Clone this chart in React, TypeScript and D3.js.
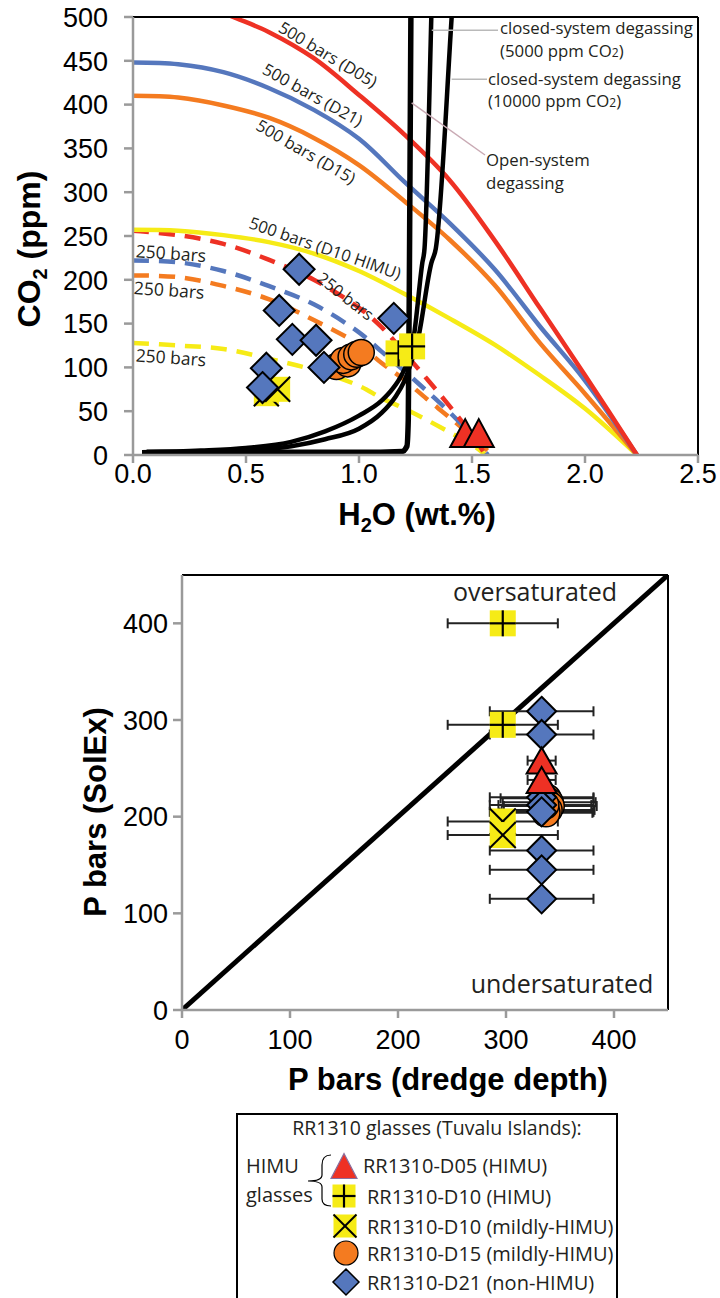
import React from 'react';
import * as d3 from 'd3';

type P = [number, number];

// ---------- Top chart (CO2 vs H2O) ----------
const h2oTicks = [0, 0.5, 1.0, 1.5, 2.0, 2.5];
const co2Ticks = [0, 50, 100, 150, 200, 250, 300, 350, 400, 450, 500];

const isoD05_500: P[] = [[0, 545], [0.2, 532], [0.4, 505], [0.6, 483], [0.8, 453], [1.0, 411], [1.2, 366], [1.4, 314], [1.6, 245], [1.8, 168], [2.0, 91], [2.23, 0]];
const isoD21_500: P[] = [[0, 448], [0.2, 446], [0.4, 437], [0.6, 419], [0.8, 394], [1.0, 361], [1.2, 312], [1.4, 265], [1.6, 212], [1.8, 147], [2.0, 85], [2.23, 0]];
const isoD15_500: P[] = [[0, 410], [0.2, 408], [0.4, 399], [0.6, 385], [0.8, 362], [1.0, 331], [1.2, 290], [1.4, 246], [1.6, 194], [1.8, 128], [2.0, 70], [2.23, 0]];
const isoD10_500: P[] = [[0, 257], [0.2, 256], [0.4, 251], [0.6, 243], [0.8, 230], [1.0, 210], [1.2, 184], [1.4, 156], [1.6, 126], [1.8, 91], [2.0, 53], [2.23, 0]];

const isoD05_250: P[] = [[0, 256], [0.2, 251], [0.4, 241], [0.6, 223], [0.8, 200], [1.0, 168], [1.1, 146], [1.2, 117], [1.3, 87], [1.4, 56], [1.5, 23], [1.56, 0]];
const isoD21_250: P[] = [[0, 222], [0.2, 220], [0.4, 210], [0.6, 193], [0.8, 172], [1.0, 140], [1.1, 118], [1.2, 96], [1.3, 73], [1.4, 49], [1.5, 22], [1.57, 0]];
const isoD15_250: P[] = [[0, 205], [0.2, 203], [0.4, 193], [0.6, 178], [0.8, 154], [1.0, 126], [1.1, 105], [1.2, 86], [1.3, 64], [1.4, 43], [1.5, 21], [1.59, 0]];
const isoD10_250: P[] = [[0, 128], [0.2, 125], [0.4, 121], [0.6, 110], [0.8, 97], [1.0, 79], [1.1, 65], [1.2, 53], [1.3, 40], [1.4, 26], [1.5, 12], [1.56, 0]];

const openSystem: P[] = [[0.06, 3], [0.5, 3], [1.0, 3], [1.19, 4], [1.212, 10], [1.218, 40], [1.224, 250], [1.23, 520]];
const closed5000: P[] = [[0.04, 3], [0.3, 5], [0.5, 8], [0.7, 15], [0.85, 27], [1.0, 45], [1.1, 62], [1.15, 76], [1.19, 92], [1.22, 110], [1.24, 131], [1.28, 219], [1.29, 236], [1.32, 500], [1.322, 520]];
const closed10000: P[] = [[0.04, 2], [0.3, 3], [0.5, 5], [0.7, 10], [0.85, 18], [1.0, 30], [1.1, 48], [1.16, 66], [1.2, 84], [1.23, 105], [1.26, 131], [1.32, 219], [1.34, 236], [1.41, 500], [1.415, 520]];

const d05Top: P[] = [[1.47, 25], [1.53, 25]];
const d10HimuTop: P[] = [[1.175, 116], [1.235, 124]];
const d10MildTop: P[] = [[0.59, 70], [0.64, 75]];
const d15Top: P[] = [[0.90, 101], [0.95, 104], [0.93, 108], [0.965, 112], [0.99, 115], [1.01, 117]];
const d21Top: P[] = [[0.735, 212], [0.647, 165], [0.705, 132], [0.81, 131], [0.845, 100], [0.59, 99], [0.573, 77], [1.154, 156]];

// ---------- Bottom chart (P SolEx vs P dredge) ----------
const pTicks = [0, 100, 200, 300, 400];
type E = [number, number, number]; // dredge P, SolEx P, +/- error on dredge P
const d05Bot: E[] = [[333, 258, 13], [333, 238, 13]];
const d10HimuBot: E[] = [[297, 400, 51], [297, 295, 51]];
const d10MildBot: E[] = [[297, 195, 51], [297, 181, 51]];
const d15Bot: E[] = [[338, 219, 43], [340, 215, 43], [341, 211, 43], [339, 207, 43], [337, 204, 43], [336, 212, 43]];
const d21Bot: E[] = [[333, 309, 48], [333, 285, 48], [333, 220, 48], [333, 212, 48], [333, 205, 48], [333, 165, 48], [333, 145, 48], [333, 115, 48]];

const RED = '#ee3124';
const BLUE = '#5577bd';
const ORANGE = '#f47b20';
const YELLOW = '#f6eb16';
const SANS = '"Liberation Sans", Arial, sans-serif';
const LABEL = '"Open Sans", sans-serif';
const INK = '#231f20';

const diamond = (cx: number, cy: number, r: number) => `M${cx},${cy - r}L${cx + r},${cy}L${cx},${cy + r}L${cx - r},${cy}Z`;
const triangle = (cx: number, cy: number, w: number, h: number) => `M${cx},${cy - h / 2}L${cx + w / 2},${cy + h / 2}L${cx - w / 2},${cy + h / 2}Z`;

function SqPlus({ cx, cy, s }: { cx: number; cy: number; s: number }) {
  return (
    <g>
      <rect x={cx - s / 2} y={cy - s / 2} width={s} height={s} fill={YELLOW} />
      <line x1={cx} x2={cx} y1={cy - s / 2} y2={cy + s / 2} stroke="#000" strokeWidth={2.2} />
      <line x1={cx - s / 2} x2={cx + s / 2} y1={cy} y2={cy} stroke="#000" strokeWidth={2.2} />
    </g>
  );
}
function SqX({ cx, cy, s }: { cx: number; cy: number; s: number }) {
  return (
    <g>
      <rect x={cx - s / 2} y={cy - s / 2} width={s} height={s} fill={YELLOW} />
      <line x1={cx - s / 2} x2={cx + s / 2} y1={cy - s / 2} y2={cy + s / 2} stroke="#000" strokeWidth={2} />
      <line x1={cx - s / 2} x2={cx + s / 2} y1={cy + s / 2} y2={cy - s / 2} stroke="#000" strokeWidth={2} />
    </g>
  );
}

export default function App() {
  // top scales
  const x = d3.scaleLinear().domain([0, 2.5]).range([133, 698]);
  const y = d3.scaleLinear().domain([0, 500]).range([455, 17]);
  const smooth = d3.line<P>().x(d => x(d[0])).y(d => y(d[1])).curve(d3.curveCatmullRom.alpha(0.5));
  const mono = d3.line<P>().x(d => x(d[0])).y(d => y(d[1])).curve(d3.curveMonotoneX);

  // bottom scales
  const bx = d3.scaleLinear().domain([0, 450]).range([182, 668]);
  const by = d3.scaleLinear().domain([0, 450]).range([1010, 575]);

  const solid = [
    { d: isoD10_500, c: YELLOW },
    { d: isoD15_500, c: ORANGE },
    { d: isoD21_500, c: BLUE },
    { d: isoD05_500, c: RED },
  ];
  const dashed = [
    { d: isoD10_250, c: YELLOW },
    { d: isoD15_250, c: ORANGE },
    { d: isoD21_250, c: BLUE },
    { d: isoD05_250, c: RED },
  ];

  const rotLabel = (txt: string, px: number, py: number, ang: number, size = 16.5) => (
    <text key={txt + px} transform={`translate(${px},${py}) rotate(${ang})`} textAnchor="middle" dy="0.35em"
      fontFamily={LABEL} fontSize={size} fill={INK}>{txt}</text>
  );

  const allBot = [...d05Bot, ...d10HimuBot, ...d10MildBot, ...d15Bot, ...d21Bot];

  return (
    <svg width={720} height={1298} style={{ position: 'absolute', left: 0, top: 0, background: '#fff' }}>
      <defs>
        <clipPath id="topclip">
          <rect x={x(0)} y={y(500)} width={x(2.5) - x(0)} height={y(0) - y(500)} />
        </clipPath>
        <clipPath id="botclip">
          <rect x={bx(0)} y={by(450)} width={bx(450) - bx(0)} height={by(0) - by(450)} />
        </clipPath>
      </defs>
      <rect x={0} y={0} width={720} height={1298} fill="#fff" />

      {/* ================= TOP CHART ================= */}
      <g clipPath="url(#topclip)">
        {dashed.map((s, i) => (
          <path key={'ds' + i} d={smooth(s.d) || ''} fill="none" stroke={s.c} strokeWidth={4.5} strokeDasharray="16,10" />
        ))}
        {solid.map((s, i) => (
          <path key={'so' + i} d={smooth(s.d) || ''} fill="none" stroke={s.c} strokeWidth={4.5} />
        ))}
        <path d={mono(closed10000) || ''} fill="none" stroke="#000" strokeWidth={4.5} />
        <path d={mono(closed5000) || ''} fill="none" stroke="#000" strokeWidth={4.5} />
        <path d={mono(openSystem) || ''} fill="none" stroke="#000" strokeWidth={5.5} />
      </g>

      {/* frame */}
      <line x1={x(0)} x2={x(2.5)} y1={y(500)} y2={y(500)} stroke="#000" strokeWidth={2} />
      <line x1={x(2.5)} x2={x(2.5)} y1={y(500)} y2={y(0)} stroke="#000" strokeWidth={2} />
      <line x1={x(0)} x2={x(0)} y1={y(500)} y2={y(0)} stroke="#9a9a9a" strokeWidth={2.5} />
      <line x1={x(0)} x2={x(2.5)} y1={y(0)} y2={y(0)} stroke="#9a9a9a" strokeWidth={2.5} />
      {co2Ticks.map(t => (
        <g key={'yt' + t}>
          <line x1={x(0) - 9} x2={x(0)} y1={y(t)} y2={y(t)} stroke="#9a9a9a" strokeWidth={2.5} />
          <text x={108} y={y(t)} dy="0.36em" textAnchor="end" fontFamily={SANS} fontSize={27} fill="#000">{t}</text>
        </g>
      ))}
      {h2oTicks.map(t => (
        <g key={'xt' + t}>
          <line x1={x(t)} x2={x(t)} y1={y(0)} y2={y(0) + 8} stroke="#9a9a9a" strokeWidth={2.5} />
          <text x={x(t)} y={483} textAnchor="middle" fontFamily={SANS} fontSize={27} fill="#000">{t.toFixed(1)}</text>
        </g>
      ))}
      <text x={417} y={525} textAnchor="middle" fontFamily={SANS} fontSize={31} fontWeight="bold" fill="#000">
        H<tspan fontSize={20} dy={7}>2</tspan><tspan dy={-7}>O (wt.%)</tspan>
      </text>
      <text transform={`translate(40,249) rotate(-90)`} textAnchor="middle" fontFamily={SANS} fontSize={32} fontWeight="bold" fill="#000">
        CO<tspan fontSize={20} dy={7}>2</tspan><tspan dy={-7}> (ppm)</tspan>
      </text>

      {/* curve labels */}
      {rotLabel('500 bars (D05)', x(0.862), y(457), 31)}
      {rotLabel('500 bars (D21)', x(0.795), y(411), 29)}
      {rotLabel('500 bars (D15)', x(0.765), y(346), 30)}
      {rotLabel('500 bars (D10 HIMU)', x(0.85), y(236), 19)}
      {rotLabel('250 bars', x(0.94), y(181), 38)}
      {rotLabel('250 bars', x(0.168), y(230), 4, 17.5)}
      {rotLabel('250 bars', x(0.160), y(188), 4, 17.5)}
      {rotLabel('250 bars', x(0.168), y(111), 4, 17.5)}

      {/* degassing leaders & labels */}
      <line x1={x(1.322)} x2={498} y1={y(485)} y2={y(485)} stroke="#b9b9b9" strokeWidth={1.5} />
      <line x1={x(1.41)} x2={487} y1={y(429)} y2={y(429)} stroke="#b9b9b9" strokeWidth={1.5} />
      <line x1={x(1.233)} x2={485} y1={y(402)} y2={155} stroke="#c9aab4" strokeWidth={1.5} />
      <g fontFamily={LABEL} fontSize={16.8} fill={INK}>
        <text x={500} y={34}>closed-system degassing</text>
        <text x={500} y={57}>(5000 ppm CO<tspan fontSize={12}>2</tspan>)</text>
        <text x={488} y={85}>closed-system degassing</text>
        <text x={488} y={107}>(10000 ppm CO<tspan fontSize={12}>2</tspan>)</text>
        <text x={486} y={166}>Open-system</text>
        <text x={486} y={189}>degassing</text>
      </g>

      {/* data markers top */}
      {d10MildTop.map((d, i) => <SqX key={'mx' + i} cx={x(d[0])} cy={y(d[1])} s={25} />)}
      {d15Top.map((d, i) => <circle key={'c' + i} cx={x(d[0])} cy={y(d[1])} r={13} fill={ORANGE} stroke="#000" strokeWidth={1.5} />)}
      {d21Top.map((d, i) => <path key={'dm' + i} d={diamond(x(d[0]), y(d[1]), 15.5)} fill={BLUE} stroke="#000" strokeWidth={2} />)}
      {d10HimuTop.map((d, i) => <SqPlus key={'hp' + i} cx={x(d[0])} cy={y(d[1])} s={26} />)}
      {d05Top.map((d, i) => <path key={'tr' + i} d={triangle(x(d[0]), y(d[1]), 30, 28)} fill={RED} stroke="#000" strokeWidth={2} />)}

      {/* ================= BOTTOM CHART ================= */}
      <g clipPath="url(#botclip)">
        <line x1={bx(0)} y1={by(0)} x2={bx(450)} y2={by(450)} stroke="#000" strokeWidth={5} />
      </g>
      <line x1={bx(0)} x2={bx(450)} y1={by(450)} y2={by(450)} stroke="#000" strokeWidth={2} />
      <line x1={bx(450)} x2={bx(450)} y1={by(450)} y2={by(0)} stroke="#000" strokeWidth={2} />
      <line x1={bx(0)} x2={bx(0)} y1={by(450)} y2={by(0)} stroke="#9a9a9a" strokeWidth={2.5} />
      <line x1={bx(0)} x2={bx(450)} y1={by(0)} y2={by(0)} stroke="#9a9a9a" strokeWidth={2.5} />
      {pTicks.map(t => (
        <g key={'byt' + t}>
          <line x1={bx(0) - 9} x2={bx(0)} y1={by(t)} y2={by(t)} stroke="#9a9a9a" strokeWidth={2.5} />
          <text x={168} y={by(t)} dy="0.36em" textAnchor="end" fontFamily={SANS} fontSize={27} fill="#000">{t}</text>
        </g>
      ))}
      {pTicks.map(t => (
        <g key={'bxt' + t}>
          <line x1={bx(t)} x2={bx(t)} y1={by(0)} y2={by(0) + 8} stroke="#9a9a9a" strokeWidth={2.5} />
          <text x={bx(t)} y={1049} textAnchor="middle" fontFamily={SANS} fontSize={27} fill="#000">{t}</text>
        </g>
      ))}
      <text x={448} y={1090} textAnchor="middle" fontFamily={SANS} fontSize={31} fontWeight="bold" fill="#000">P bars (dredge depth)</text>
      <text transform={`translate(106,812) rotate(-90)`} textAnchor="middle" fontFamily={SANS} fontSize={31} fontWeight="bold" fill="#000">P bars (SolEx)</text>
      <text x={535} y={601} textAnchor="middle" fontFamily={LABEL} fontSize={25} fill={INK}>oversaturated</text>
      <text x={562} y={993} textAnchor="middle" fontFamily={LABEL} fontSize={25} fill={INK}>undersaturated</text>

      {/* error bars */}
      {allBot.map((d, i) => (
        <g key={'eb' + i} stroke="#222" strokeWidth={2}>
          <line x1={bx(d[0] - d[2])} x2={bx(d[0] + d[2])} y1={by(d[1])} y2={by(d[1])} />
          <line x1={bx(d[0] - d[2])} x2={bx(d[0] - d[2])} y1={by(d[1]) - 5} y2={by(d[1]) + 5} />
          <line x1={bx(d[0] + d[2])} x2={bx(d[0] + d[2])} y1={by(d[1]) - 5} y2={by(d[1]) + 5} />
        </g>
      ))}
      {d10MildBot.map((d, i) => <SqX key={'bmx' + i} cx={bx(d[0])} cy={by(d[1])} s={26} />)}
      {d10HimuBot.map((d, i) => <SqPlus key={'bhp' + i} cx={bx(d[0])} cy={by(d[1])} s={26} />)}
      {d15Bot.map((d, i) => <circle key={'bc' + i} cx={bx(d[0])} cy={by(d[1])} r={14} fill={ORANGE} stroke="#000" strokeWidth={1.5} />)}
      {d21Bot.map((d, i) => <path key={'bdm' + i} d={diamond(bx(d[0]), by(d[1]), 14.5)} fill={BLUE} stroke="#000" strokeWidth={2} />)}
      {d05Bot.map((d, i) => <path key={'btr' + i} d={triangle(bx(d[0]), by(d[1]), 30, 26)} fill={RED} stroke="#000" strokeWidth={2} />)}

      {/* ================= LEGEND ================= */}
      <rect x={237} y={1114} width={380} height={200} fill="#fff" stroke="#000" strokeWidth={2} />
      <g fontFamily={LABEL} fill={INK}>
        <text x={437} y={1135} textAnchor="middle" fontSize={19.5}>RR1310 glasses (Tuvalu Islands):</text>
        <text x={246} y={1173} fontSize={20}>HIMU</text>
        <text x={246} y={1202} fontSize={20}>glasses</text>
        <text x={363} y={1173} fontSize={20}>RR1310-D05 (HIMU)</text>
        <text x={367} y={1204} fontSize={20}>RR1310-D10 (HIMU)</text>
        <text x={367} y={1234} fontSize={20}>RR1310-D10 (mildly-HIMU)</text>
        <text x={367} y={1261} fontSize={20}>RR1310-D15 (mildly-HIMU)</text>
        <text x={367} y={1290} fontSize={20}>RR1310-D21 (non-HIMU)</text>
      </g>
      <path d="M331,1155 Q322,1155 322,1165 L322,1175 Q322,1181 308,1181 Q322,1181 322,1187 L322,1199 Q322,1206 331,1206"
        fill="none" stroke="#000" strokeWidth={1.2} />
      <path d={triangle(344, 1166, 26, 25)} fill={RED} stroke="#8a6f9e" strokeWidth={1.2} />
      <SqPlus cx={344} cy={1196} s={23} />
      <SqX cx={345} cy={1226} s={23} />
      <circle cx={346} cy={1253} r={12} fill={ORANGE} stroke="#000" strokeWidth={1.2} />
      <path d={diamond(346, 1282, 13)} fill={BLUE} stroke="#000" strokeWidth={1.5} />
    </svg>
  );
}
